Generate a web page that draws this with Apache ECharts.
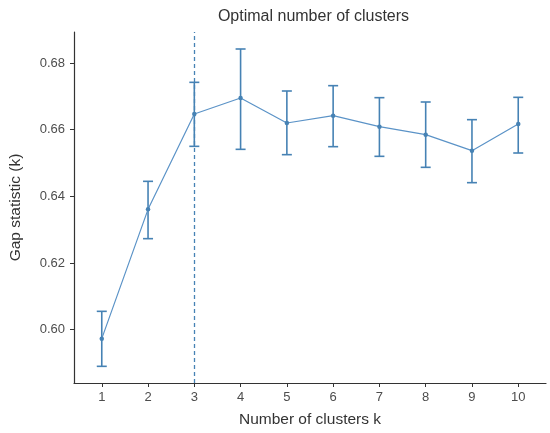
<!DOCTYPE html>
<html>
<head>
<meta charset="utf-8">
<script src="https://cdn.jsdelivr.net/npm/echarts@6/dist/echarts.min.js"></script>
<style>
html,body{margin:0;padding:0;background:#fff;}
#chart{width:550px;height:433px;}
</style>
</head>
<body>
<div id="chart"></div>
<script>
var clustersK = [1, 2, 3, 4, 5, 6, 7, 8, 9, 10];
var gapValues = [0.5973, 0.6361, 0.6647, 0.6695, 0.6620, 0.6642, 0.6609, 0.6585, 0.6537, 0.6617];
var gapUpper  = [0.6055, 0.6445, 0.6742, 0.6842, 0.6716, 0.6732, 0.6696, 0.6683, 0.6630, 0.6697];
var gapLower  = [0.5890, 0.6273, 0.6550, 0.6541, 0.6525, 0.6549, 0.6520, 0.6487, 0.6441, 0.6530];
var yTicks = [0.60, 0.62, 0.64, 0.66, 0.68];
var optimalK = 3;

var color = '#4682B4';
var font = 'Liberation Sans, Arial, sans-serif';
var chart = echarts.init(document.getElementById('chart'));

var lineData = clustersK.map(function (k, i) { return [k, gapValues[i]]; });
var errData = clustersK.map(function (k, i) { return [k, gapLower[i], gapUpper[i]]; });

var option = {
  backgroundColor: '#fff',
  animation: false,
  title: {
    text: 'Optimal number of clusters',
    left: 308.5,
    top: 4,
    textAlign: 'center',
    textStyle: { fontFamily: font, fontSize: 16, fontWeight: 'normal', color: '#333' }
  },
  grid: { left: 71, right: 4, top: 32, bottom: 50, containLabel: false },
  xAxis: {
    type: 'value',
    min: 0.4, max: 10.6,
    name: 'Number of clusters k',
    nameLocation: 'middle',
    nameGap: 29,
    nameTextStyle: { fontFamily: font, fontSize: 15.5, color: '#333' },
    splitLine: { show: false },
    axisLine: { lineStyle: { color: '#333', width: 1.2 } },
    axisTick: { show: true, length: 4, lineStyle: { color: '#333' }, customValues: clustersK },
    axisLabel: { customValues: clustersK, fontFamily: font, fontSize: 13, color: '#4d4d4d', margin: 8 }
  },
  yAxis: {
    type: 'value',
    min: 0.584, max: 0.6893,
    name: 'Gap statistic (k)',
    nameLocation: 'middle',
    nameGap: 50,
    nameTextStyle: { fontFamily: font, fontSize: 15.5, color: '#333' },
    splitLine: { show: false },
    axisLine: { show: true, lineStyle: { color: '#333', width: 1.2 } },
    axisTick: { show: true, length: 4, lineStyle: { color: '#333' }, customValues: yTicks },
    axisLabel: {
      customValues: yTicks,
      fontFamily: font, fontSize: 13, color: '#4d4d4d', margin: 9,
      formatter: function (v) { return v.toFixed(2); }
    }
  },
  series: [
    {
      type: 'line',
      data: lineData,
      symbol: 'circle',
      symbolSize: 4.5,
      itemStyle: { color: color },
      lineStyle: { color: '#5b93c7', width: 1.2 },
      z: 3,
      markLine: {
        silent: true,
        symbol: 'none',
        label: { show: false },
        lineStyle: { color: color, type: [4, 3], width: 1.3 },
        data: [{ xAxis: optimalK }]
      }
    },
    {
      type: 'custom',
      data: errData,
      z: 2,
      renderItem: function (params, api) {
        var x = api.value(0);
        var lo = api.coord([x, api.value(1)]);
        var hi = api.coord([x, api.value(2)]);
        var hw = 5;
        var st = { stroke: color, lineWidth: 1.6, fill: null };
        return {
          type: 'group',
          children: [
            { type: 'line', shape: { x1: lo[0], y1: lo[1], x2: hi[0], y2: hi[1] }, style: st },
            { type: 'line', shape: { x1: lo[0] - hw, y1: lo[1], x2: lo[0] + hw, y2: lo[1] }, style: st },
            { type: 'line', shape: { x1: hi[0] - hw, y1: hi[1], x2: hi[0] + hw, y2: hi[1] }, style: st }
          ]
        };
      }
    }
  ]
};
chart.setOption(option);
</script>
</body>
</html>
